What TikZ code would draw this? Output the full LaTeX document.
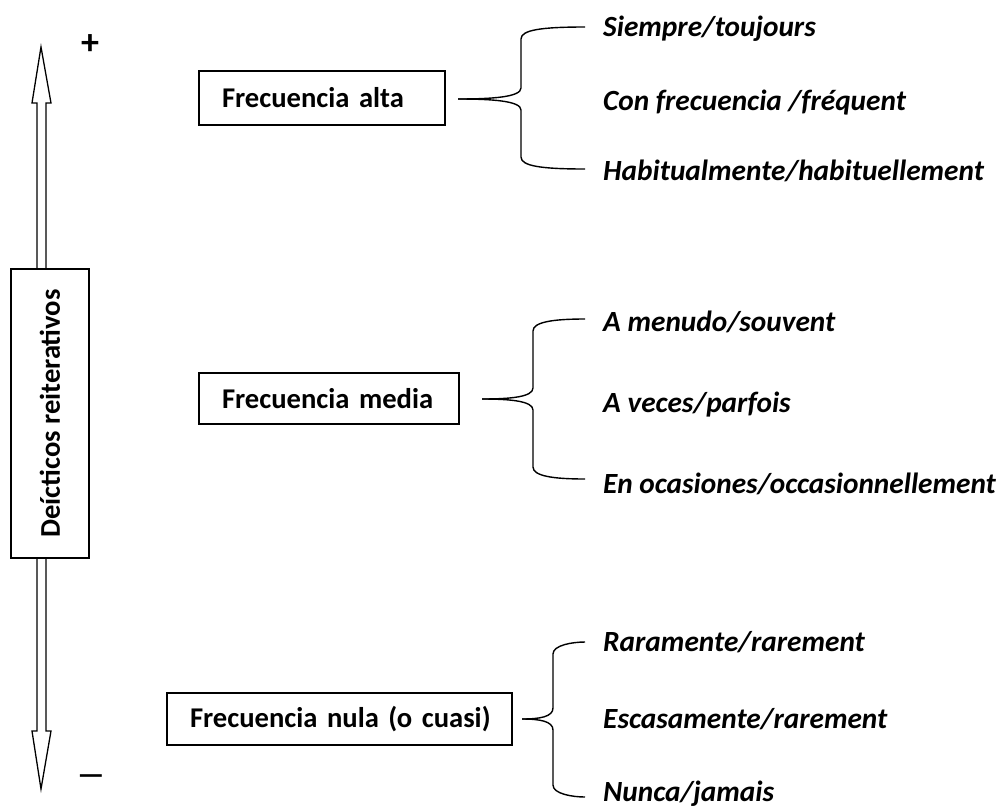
\documentclass[tikz,border=0pt]{standalone}
\usepackage{fontspec}
\setmainfont{Carlito}
\newcommand\mybrace[6]{% tip x, tip y, vertical x, top y, bottom y, end x
  \draw[brace] (#1,#2) .. controls ({#1+0.55*(#3-#1)},#2) and (#3,{#2-2}) .. (#3,{#2-11})
     -- (#3,{#4+12}) .. controls (#3,{#4+3}) and ({#3+20},#4) .. (#6,#4);
  \draw[brace] (#1,#2) .. controls ({#1+0.55*(#3-#1)},#2) and (#3,{#2+2}) .. (#3,{#2+11})
     -- (#3,{#5-12}) .. controls (#3,{#5-3}) and ({#3+20},#5) .. (#6,#5);
}
\begin{document}
\begin{tikzpicture}[x=1pt,y=-1pt,
  box/.style={draw,line width=1.3pt,inner xsep=23pt,inner ysep=0pt,align=left,
    font=\bfseries\fontsize{28.6}{32}\selectfont},
  item/.style={anchor=base west,inner sep=0pt,font=\bfseries\itshape\fontsize{29.3}{32}\selectfont},
  brace/.style={line width=1.4pt},
  dblarrow/.style={line width=1.3pt,line join=miter}]
\useasboundingbox (0,0) rectangle (1003,809);
% double arrow
\draw[dblarrow] (41,47) -- (51,103) -- (46,103) -- (46,731) -- (51,731) -- (41,789)
  -- (32,731) -- (37,731) -- (37,103) -- (32,103) -- cycle;
\node[box,fill=white,rotate=90,minimum width=289pt,minimum height=78pt,inner xsep=0pt,align=center]
  (dr) at (50,413.5) {Deícticos reiterativos};
\node[font=\bfseries\fontsize{36}{36}\selectfont,inner sep=0pt] (plus) at (90,45) {+};
\node[font=\bfseries\fontsize{30}{30}\selectfont,inner sep=0pt] (minus) at (91,780) {—};
% boxes
\node[box,text width=200pt,minimum height=54pt] (alta) at (322,98) {\mbox{Frecuencia alta}};
\node[box,text width=214pt,minimum height=51pt] (media) at (329,398.5) {\mbox{Frecuencia media}};
\node[box,text width=299pt,minimum height=52pt] (nula) at (339.5,719) {\mbox{Frecuencia nula (o cuasi)}};
% items
\node[item] (a1) at (603,36) {Siempre/toujours};
\node[item] (a2) at (603,110) {Con frecuencia /fréquent};
\node[item] (a3) at (603,180) {Habitualmente/habituellement};
\node[item] (m1) at (603,331) {A menudo/souvent};
\node[item] (m2) at (603,412) {A veces/parfois};
\node[item] (m3) at (603,493) {En ocasiones/occasionnellement};
\node[item] (n1) at (603,651) {Raramente/rarement};
\node[item] (n2) at (603,728) {Escasamente/rarement};
\node[item] (n3) at (603,801) {Nunca/jamais};
% braces
\mybrace{458}{99}{521}{27}{169}{585}
\mybrace{482}{399}{533}{319}{479}{585}
\mybrace{522}{719}{553}{642}{797}{585}
\end{tikzpicture}
\end{document}
